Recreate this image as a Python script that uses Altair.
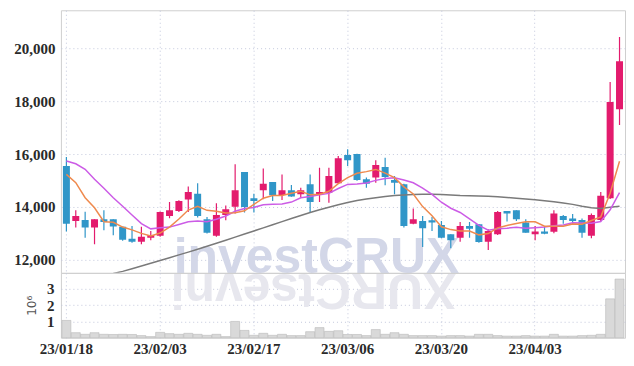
import altair as alt
import pandas as pd

dates = ["23/01/18","23/01/19","23/01/20","23/01/25","23/01/26","23/01/27","23/01/30","23/01/31",
         "23/02/01","23/02/02","23/02/03","23/02/06","23/02/07","23/02/08","23/02/09","23/02/10",
         "23/02/13","23/02/14","23/02/15","23/02/16","23/02/17","23/02/20","23/02/21","23/02/22",
         "23/02/23","23/02/24","23/02/27","23/02/28","23/03/02","23/03/03","23/03/06","23/03/07",
         "23/03/08","23/03/09","23/03/10","23/03/13","23/03/14","23/03/15","23/03/16","23/03/17",
         "23/03/20","23/03/21","23/03/22","23/03/23","23/03/24","23/03/27","23/03/28","23/03/29",
         "23/03/30","23/03/31","23/04/03","23/04/04","23/04/05","23/04/06","23/04/07","23/04/10",
         "23/04/11","23/04/12","23/04/13","23/04/14"]

opens = [15550,13470,13510,13220,13540,13540,13250,12800,12690,12840,
         12910,13660,13850,14280,14500,13540,12910,13700,14010,15320,
         14330,14630,14940,14450,14630,14480,14860,14450,14540,14900,
         15960,16000,15050,15110,15510,15020,14860,13370,13470,13500,
         13320,12970,12840,13280,13350,12690,12970,13850,13880,13410,
         12970,13070,13060,13660,13560,13510,12910,13510,14330,17690]
highs = [15890,13880,13820,13540,13880,13540,13250,13280,13250,13090,
         13830,14190,14250,14770,14900,13620,14140,14060,15610,15320,
         14500,15450,14940,15230,14830,14730,15230,15480,15480,15930,
         16180,16010,15110,15770,15860,15170,14880,13940,13660,13620,
         13470,12970,13430,13430,13350,13160,13850,13850,13880,13540,
         13280,13250,13880,13700,13730,13560,13750,14570,18720,20420]
lows = [13070,13220,12840,12590,13120,12930,12720,12650,12590,12740,
        12870,13570,13810,13810,13600,13000,12870,13500,13750,13790,
        13790,14290,14230,14260,14390,14350,13810,14190,14160,14900,
        15550,14990,14730,14920,14820,14480,13220,13350,12490,13090,
        12820,12440,12690,12840,12650,12370,12940,13450,13470,13030,
        12740,12970,13010,13370,13370,12840,12820,13470,14300,17100]
closes = [13370,13660,13220,13540,13430,13260,12760,12690,12870,12940,
          13810,13880,14230,14570,13660,13030,13700,13910,14630,14000,
          14230,14880,14440,14630,14400,14630,14190,14570,15170,15840,
          15770,15020,14880,15590,15130,14920,13280,13540,13200,13410,
          12840,12740,13280,13180,12680,13090,13810,13750,13540,13030,
          13070,12990,13750,13510,13470,13030,13700,14420,17970,19510]
volume_m = [1.06,0.31,0.21,0.31,0.21,0.20,0.21,0.20,0.13,0.07,
            0.33,0.25,0.21,0.27,0.21,0.15,0.21,0.07,1.00,0.45,
            0.15,0.27,0.15,0.21,0.13,0.13,0.37,0.62,0.39,0.43,
            0.20,0.20,0.13,0.50,0.21,0.31,0.21,0.13,0.13,0.13,
            0.10,0.13,0.13,0.10,0.21,0.21,0.13,0.10,0.10,0.13,
            0.10,0.10,0.21,0.10,0.10,0.13,0.15,0.21,2.38,3.59]
ma5 = [15230,14920,14350,13970,13444,13421,13240,13135,13001,12903,
       13014,13238,13545,13885,14028,13872,13836,13773,13786,13854,
       14094,14330,14436,14436,14517,14597,14459,14484,14592,14879,
       15107,15273,15336,15419,15278,15107,14759,14491,14013,13668,
       13253,13145,13094,13091,12946,12996,13210,13303,13374,13444,
       13439,13275,13275,13270,13358,13350,13491,13625,14518,15725]
ma10 = [15736,15634,15423,15045,14706,14351,14027,13698,13370,13173,
        13218,13239,13340,13443,13466,13443,13537,13659,13836,13941,
        13983,14083,14105,14111,14185,14345,14395,14460,14514,14698,
        14852,14866,14910,15006,15078,15107,15016,14913,14716,14473,
        14180,13952,13793,13552,13307,13125,13177,13199,13233,13195,
        13217,13242,13289,13322,13401,13395,13383,13450,13894,14542]
ma60 = [None,None,None,None,None,11487,11566,11668,11770,11872,
        11977,12083,12189,12294,12404,12513,12626,12743,12860,12977,
        13094,13211,13328,13445,13562,13679,13789,13895,13993,14083,
        14166,14242,14302,14351,14393,14430,14457,14472,14479,14479,
        14472,14453,14434,14423,14415,14404,14385,14359,14332,14302,
        14272,14234,14196,14151,14098,14027,13970,13944,13989,14027]

price_ticks = [12000, 14000, 16000, 18000, 20000]
vol_ticks = [1, 2, 3]
date_ticks = dates[::10]

df = pd.DataFrame({"date": dates, "open": opens, "high": highs, "low": lows,
                   "close": closes, "vol": volume_m, "ma5": ma5, "ma10": ma10, "ma60": ma60})
df["dir"] = ["up" if c >= o else "down" for o, c in zip(opens, closes)]

UP = "#e31b6d"
DOWN = "#3096c8"
GRID = "#c3c8dc"
FONT = "Liberation Sans Narrow"
W = 565

xscale = alt.Scale(type="band", domain=dates, paddingInner=0, paddingOuter=0.085)
xgrid = alt.Axis(values=date_ticks, labels=False, ticks=False, domain=False, grid=True,
                 gridDash=[1, 3], gridColor=GRID, title=None, bandPosition=0.5)
yscale = alt.Scale(domain=[11510, 21434], nice=False, zero=False)
color = alt.Color("dir:N", scale=alt.Scale(domain=["up", "down"], range=[UP, DOWN]), legend=None)

base = alt.Chart(df)

wick = base.mark_rule(strokeWidth=1.2, clip=True).encode(
    x=alt.X("date:O", scale=xscale, axis=xgrid),
    y=alt.Y("low:Q", scale=yscale, title=None,
            axis=alt.Axis(values=price_ticks, format=",d", ticks=False, domain=False,
                          grid=True, gridDash=[1, 3], gridColor=GRID, labelPadding=6)),
    y2="high:Q",
    color=color,
)
body = base.mark_bar(size=7, clip=True).encode(
    x=alt.X("date:O", scale=xscale),
    y=alt.Y("open:Q", scale=yscale, title=None),
    y2="close:Q",
    color=color,
)
line60 = base.transform_filter("isValid(datum.ma60)").mark_line(
    color="#7a7a7a", strokeWidth=1.5, clip=True).encode(
    x=alt.X("date:O", scale=xscale), y=alt.Y("ma60:Q", scale=yscale, title=None))
line10 = base.mark_line(color="#cc5ce6", strokeWidth=1.5, clip=True).encode(
    x=alt.X("date:O", scale=xscale), y=alt.Y("ma10:Q", scale=yscale, title=None))
line5 = base.mark_line(color="#ef8a4e", strokeWidth=1.5, clip=True).encode(
    x=alt.X("date:O", scale=xscale), y=alt.Y("ma5:Q", scale=yscale, title=None))

wm_df = pd.DataFrame({"t": ["investCRUX"], "r": ["XURCtsevni"]})
watermark = alt.Chart(wm_df).mark_text(
    font="Liberation Sans", fontWeight="bold", fontSize=50, color="#d3d7e8",
    align="left", baseline="alphabetic").encode(
    x=alt.value(113), y=alt.value(263), text="t:N")

price = alt.layer(watermark, wick, body, line60, line10, line5).properties(width=W, height=263)

reflect = alt.Chart(wm_df).mark_text(
    font="Liberation Sans", fontWeight="bold", fontSize=50, color="#e7e7ee",
    align="left", baseline="alphabetic", angle=180).encode(
    x=alt.value(396), y=alt.value(1), text="r:N")

vol = base.mark_bar(size=9, color="#d9d9d9", stroke="#b8b8b8", strokeWidth=0.6).encode(
    x=alt.X("date:O", scale=xscale, title=None,
            axis=alt.Axis(values=date_ticks, ticks=False, domain=False, grid=True,
                          gridDash=[1, 3], gridColor=GRID, labelAngle=0, labelPadding=4,
                          bandPosition=0.5)),
    y=alt.Y("vol:Q", scale=alt.Scale(domain=[0, 3.97], nice=False),
            axis=alt.Axis(values=vol_ticks, ticks=False, domain=False, grid=True,
                          gridDash=[1, 3], gridColor=GRID, labelPadding=7,
                          title="10⁶", titleFont="DejaVu Sans", titleFontSize=12,
                          titleFontWeight="normal", titleColor="#555", titlePadding=8)),
)
volume = alt.layer(reflect, vol).properties(width=W, height=65)

chart = alt.vconcat(price, volume, spacing=0, bounds="flush").properties(
    padding={"left": 5, "top": 1, "right": 0, "bottom": 0}
).configure_view(stroke="#cfcfcf", strokeWidth=1).configure_axis(
    labelFont=FONT, labelFontSize=15, labelFontWeight="bold", labelColor="#2a2a2a"
)

chart.save("out.html", embed_options={"renderer": "svg", "actions": False})
